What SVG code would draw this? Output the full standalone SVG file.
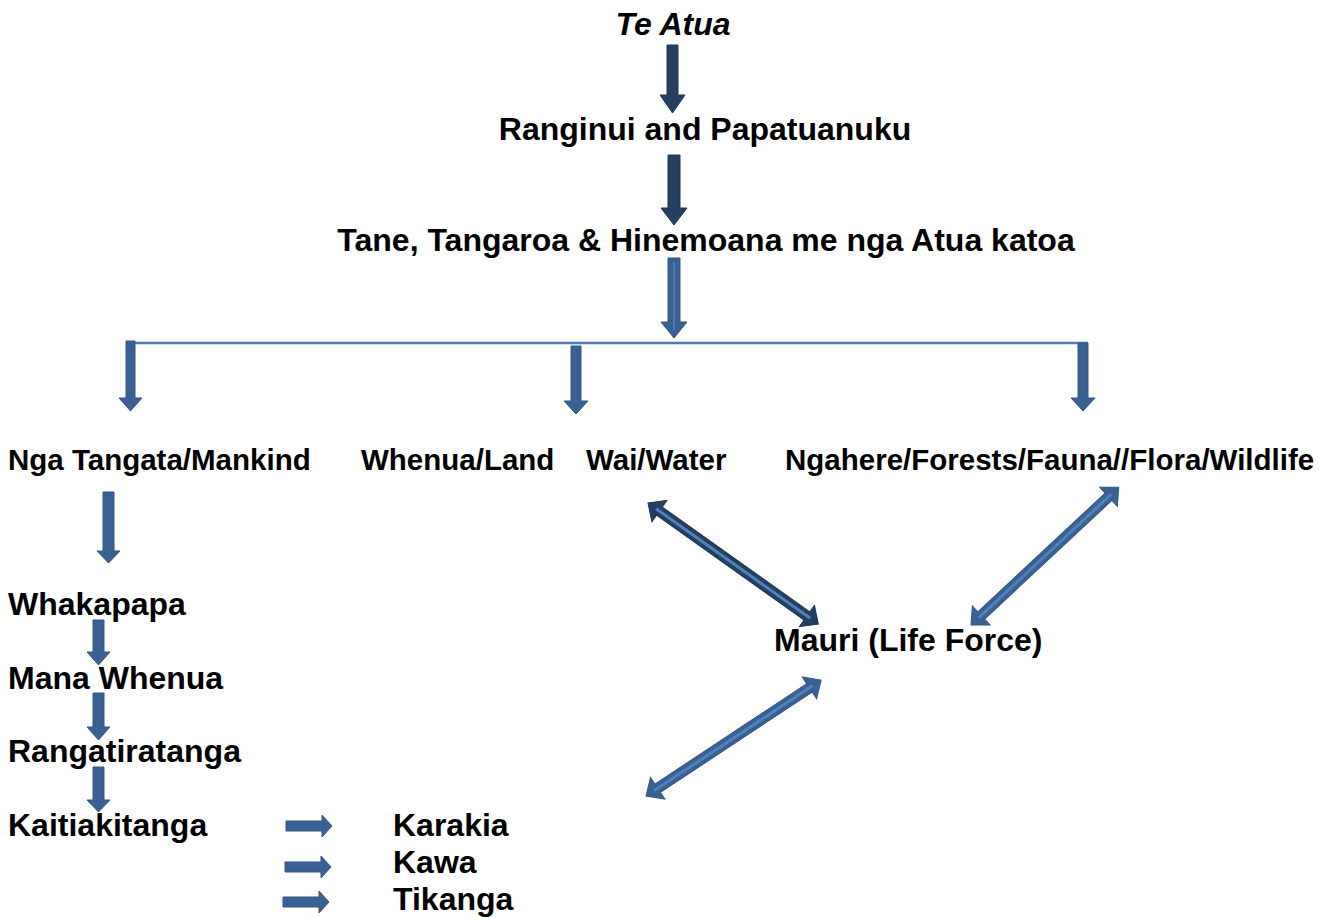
<svg xmlns="http://www.w3.org/2000/svg" width="1319" height="917" viewBox="0 0 1319 917">
<style>
text{font-family:"Liberation Sans",Arial,sans-serif;font-weight:bold;font-size:32px;fill:#000}
.sm{font-size:29.5px}
.it{font-style:italic}
.dk{fill:#243f60;stroke:#1f3655;stroke-width:1}
.md{fill:#3a6193;stroke:#34578a;stroke-width:1}
.hl{stroke:#4f81bd;stroke-width:3;fill:none}
.bar{stroke:#4a7ebb;stroke-width:2.5;fill:none}
</style>
<g id="te-atua"><text class="it" x="673" y="35" text-anchor="middle">Te Atua</text></g>
<g id="ranginui"><text x="705" y="140" text-anchor="middle">Ranginui and Papatuanuku</text></g>
<g id="tane"><text x="706" y="251" text-anchor="middle">Tane, Tangaroa &amp; Hinemoana me nga Atua katoa</text></g>
<g id="nga-tangata"><text class="sm" x="8" y="470">Nga Tangata/Mankind</text></g>
<g id="whenua"><text class="sm" x="361" y="470">Whenua/Land</text></g>
<g id="wai"><text class="sm" x="586" y="470">Wai/Water</text></g>
<g id="ngahere"><text class="sm" x="785" y="470">Ngahere/Forests/Fauna//Flora/Wildlife</text></g>
<g id="whakapapa"><text x="8" y="615">Whakapapa</text></g>
<g id="mana-whenua"><text x="8" y="689">Mana Whenua</text></g>
<g id="rangatiratanga"><text x="8" y="762">Rangatiratanga</text></g>
<g id="kaitiakitanga"><text x="8" y="836">Kaitiakitanga</text></g>
<g id="karakia"><text x="393" y="836">Karakia</text></g>
<g id="kawa"><text x="393" y="873">Kawa</text></g>
<g id="tikanga"><text x="393" y="910">Tikanga</text></g>
<g id="mauri"><text x="774" y="651">Mauri (Life Force)</text></g>
<g id="connectors">
<path class="dk" d="M667,45 H678 V95 H685 L672.5,113 660,95 H667 Z"/>
<path class="dk" d="M668,155 H680 V208 H687 L674,225 661,208 H668 Z"/>
<path class="md" d="M668,258 H680 V322 H687 L674,338 661,322 H668 Z"/>
<line class="hl" x1="674" y1="262" x2="674" y2="330" style="stroke-width:1.5"/>
<line class="bar" x1="130" y1="343" x2="1088" y2="343"/>
<path class="md" d="M126,341 H135 V398 H142 L130.5,411 119,398 H126 Z"/>
<path class="md" d="M571,346 H581 V401 H588 L576,414 564,401 H571 Z"/>
<path class="md" d="M1078,343 H1088 V398 H1095 L1083,411 1071,398 H1078 Z"/>
<path class="md" d="M103,492 H114 V551 H120 L108.5,563 97,551 H103 Z"/>
<path class="md" d="M93,620 H104 V652 H110 L98.5,665 87,652 H93 Z"/>
<path class="md" d="M93,693 H104 V727 H110 L98.5,740 87,727 H93 Z"/>
<path class="md" d="M93,767 H104 V800 H110 L98.5,812 87,800 H93 Z"/>
<path class="md" d="M286,821 H322 V815 L332,826 322,837 V831 H286 Z"/>
<path class="md" d="M285,862 H321 V856 L331,867 321,878 V872 H285 Z"/>
<path class="md" d="M283,897 H319 V891 L329,902 319,913 V907 H283 Z"/>
<g transform="translate(648,503) rotate(35.4)">
<path class="dk" d="M0,0 L14,-13 V-5 H195 V-13 L209,0 195,13 V5 H14 V13 Z"/>
<line class="hl" x1="10" y1="0" x2="199" y2="0"/>
</g>
<g transform="translate(971,625) rotate(-43)">
<path class="md" d="M0,0 L14,-13 V-5 H188 V-13 L202,0 188,13 V5 H14 V13 Z"/>
<line class="hl" x1="10" y1="0" x2="192" y2="0"/>
</g>
<g transform="translate(646,796) rotate(-33.5)">
<path class="md" d="M0,0 L14,-13 V-5 H196 V-13 L210,0 196,13 V5 H14 V13 Z"/>
<line class="hl" x1="10" y1="0" x2="200" y2="0"/>
</g>
</g>
</svg>
